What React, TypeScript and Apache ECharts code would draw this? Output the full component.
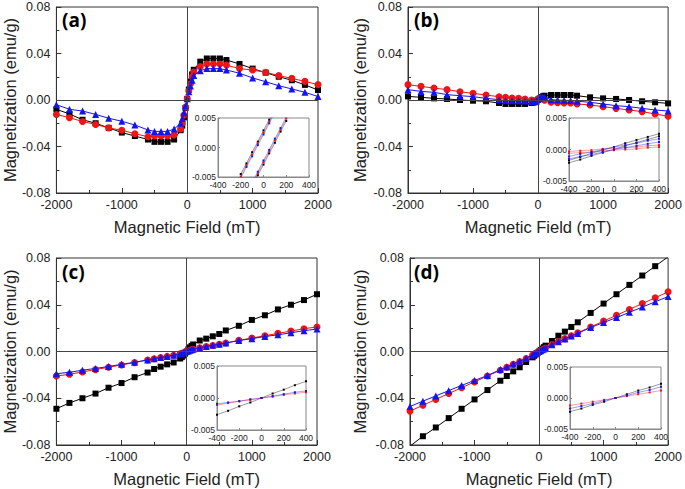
import React, { useEffect, useRef } from "react";
import * as echarts from "echarts";

// ---------- data ----------
const fieldMain = [-2000, -1800, -1600, -1400, -1200, -1000, -800, -600, -500, -400, -300, -200, -100, -75, -50, -25, 0, 25, 50, 75, 100, 200, 300, 400, 500, 600, 800, 1000, 1200, 1400, 1600, 1800, 2000];

const aBlack = [-0.008, -0.012, -0.017, -0.020, -0.024, -0.028, -0.031, -0.034, -0.036, -0.036, -0.036, -0.034, -0.026, -0.022, -0.015, -0.007, 0.001, 0.009, 0.016, 0.022, 0.026, 0.033, 0.0357, 0.0357, 0.0357, 0.0344, 0.031, 0.027, 0.0235, 0.020, 0.017, 0.013, 0.0086];
const aRed = [-0.0124, -0.0152, -0.0185, -0.021, -0.024, -0.026, -0.029, -0.0316, -0.031, -0.031, -0.031, -0.030, -0.025, -0.020, -0.013, -0.006, 0.001, 0.008, 0.014, 0.020, 0.024, 0.0287, 0.031, 0.031, 0.031, 0.030, 0.027, 0.0258, 0.0238, 0.021, 0.0186, 0.016, 0.0132];
const aBlue = [-0.004, -0.008, -0.0095, -0.0124, -0.0157, -0.0183, -0.0215, -0.0258, -0.027, -0.027, -0.027, -0.025, -0.020, -0.016, -0.011, -0.005, 0.001, 0.007, 0.012, 0.017, 0.021, 0.0252, 0.027, 0.027, 0.027, 0.0258, 0.023, 0.019, 0.0157, 0.0123, 0.0095, 0.0066, 0.003];

const bBlack = [0.0031, 0.0023, 0.0014, 0.0009, 0.0, -0.0006, -0.0011, -0.0026, -0.0034, -0.0034, -0.0034, -0.0034, -0.0026, -0.0022, -0.0015, -0.0006, 0.0004, 0.0014, 0.0024, 0.0032, 0.0037, 0.0043, 0.0043, 0.0043, 0.0043, 0.0037, 0.0023, 0.0014, 0.0009, 0.0, -0.0011, -0.002, -0.0029];
const bRed = [0.0132, 0.0117, 0.0103, 0.0089, 0.0071, 0.0057, 0.0043, 0.0028, 0.0023, 0.0017, 0.0014, 0.0009, 0.0, -0.0006, -0.001, -0.0006, 0.0004, 0.0012, 0.0016, 0.001, -0.0002, -0.002, -0.0023, -0.0025, -0.0026, -0.0034, -0.0043, -0.0057, -0.0072, -0.0086, -0.010, -0.012, -0.014];
const bBlue = [0.0089, 0.0074, 0.0066, 0.0046, 0.0037, 0.0029, 0.0014, 0.0003, -0.0006, -0.0006, -0.0006, -0.0008, -0.0012, -0.0016, -0.0016, -0.0008, 0.0004, 0.0015, 0.0024, 0.0028, 0.0026, 0.0003, -0.0001, -0.0003, -0.0004, -0.001, -0.002, -0.0034, -0.0049, -0.0057, -0.0072, -0.0086, -0.0095];

const cBlack = [-0.049, -0.044, -0.040, -0.036, -0.031, -0.027, -0.022, -0.018, -0.015, -0.013, -0.011, -0.0094, -0.006, -0.0048, -0.0035, -0.0018, 0.0, 0.0018, 0.0035, 0.0048, 0.006, 0.0094, 0.011, 0.013, 0.015, 0.018, 0.022, 0.027, 0.031, 0.036, 0.040, 0.044, 0.049];
const cRed = [-0.021, -0.0195, -0.0175, -0.0155, -0.0135, -0.0115, -0.0095, -0.0072, -0.0062, -0.0052, -0.0042, -0.0032, -0.002, -0.0015, -0.001, -0.0005, 0.0, 0.0005, 0.001, 0.0015, 0.002, 0.0032, 0.0042, 0.0052, 0.0062, 0.0072, 0.0095, 0.0115, 0.0135, 0.0155, 0.0175, 0.0195, 0.021];
const cBlue = [-0.019, -0.0178, -0.016, -0.0145, -0.0128, -0.011, -0.0092, -0.0072, -0.0062, -0.0052, -0.0042, -0.0032, -0.002, -0.0015, -0.001, -0.0005, 0.0, 0.0005, 0.001, 0.0015, 0.002, 0.0033, 0.0043, 0.0053, 0.0063, 0.0073, 0.0094, 0.011, 0.0128, 0.0143, 0.016, 0.0178, 0.0192];

const dBlack = [-0.081, -0.0725, -0.065, -0.057, -0.049, -0.041, -0.033, -0.025, -0.021, -0.017, -0.0135, -0.009, -0.005, -0.0037, -0.0025, -0.0012, 0.0, 0.0012, 0.0025, 0.0037, 0.005, 0.009, 0.0135, 0.017, 0.021, 0.025, 0.033, 0.041, 0.049, 0.057, 0.065, 0.073, 0.081];
const dRed = [-0.051, -0.046, -0.041, -0.036, -0.031, -0.026, -0.021, -0.016, -0.0135, -0.011, -0.0085, -0.006, -0.003, -0.0022, -0.0015, -0.0007, 0.0, 0.0007, 0.0015, 0.0022, 0.003, 0.006, 0.0085, 0.011, 0.0135, 0.016, 0.021, 0.026, 0.031, 0.036, 0.041, 0.046, 0.051];
const dBlue = [-0.047, -0.0425, -0.038, -0.0335, -0.029, -0.0248, -0.0205, -0.0155, -0.0132, -0.0108, -0.0083, -0.0058, -0.003, -0.0022, -0.0015, -0.0007, 0.0, 0.0007, 0.0015, 0.0022, 0.003, 0.0058, 0.0083, 0.0108, 0.0132, 0.0155, 0.0205, 0.0248, 0.029, 0.0335, 0.038, 0.0425, 0.047];

// inset data
const insetFieldA = [-200, -150, -100, -50, 0, 50, 100, 150, 200];
const aInBlackUp = [-0.0045, -0.0027, -0.0008, 0.0010, 0.0029, 0.0047, 0.0066, 0.0084, 0.0103];
const aInBlackDown = [-0.0103, -0.0084, -0.0066, -0.0047, -0.0029, -0.0010, 0.0008, 0.0027, 0.0045];
const aInRedUp = [-0.0049, -0.0030, -0.0012, 0.0007, 0.0025, 0.0044, 0.0062, 0.0081, 0.0099];
const aInRedDown = [-0.0099, -0.0081, -0.0062, -0.0044, -0.0025, -0.0007, 0.0012, 0.0030, 0.0049];
const aInBlueUp = [-0.0052, -0.0033, -0.0015, 0.0004, 0.0022, 0.0041, 0.0059, 0.0078, 0.0096];
const aInBlueDown = [-0.0096, -0.0078, -0.0059, -0.0041, -0.0022, -0.0004, 0.0015, 0.0033, 0.0052];

const insetField = [-400, -300, -200, -100, 0, 100, 200, 300, 400];
const bInBlackUp = [-0.0017, -0.0012, -0.0006, -0.0001, 0.0004, 0.0010, 0.0015, 0.0020, 0.0025];
const bInBlackDown = [-0.0021, -0.0016, -0.0010, -0.0005, 0.0000, 0.0006, 0.0011, 0.0016, 0.0021];
const bInBlueUp = [-0.0011, -0.0007, -0.0004, 0.0000, 0.0004, 0.0007, 0.0010, 0.0014, 0.0017];
const bInBlueDown = [-0.0015, -0.0011, -0.0008, -0.0004, 0.0000, 0.0003, 0.0006, 0.0009, 0.0012];
const bInRedUp = [-0.0003, -0.0002, -0.0001, 0.0001, 0.0002, 0.0003, 0.0004, 0.0006, 0.0007];
const bInRedDown = [-0.0006, -0.0005, -0.0004, -0.0002, -0.0001, 0.0000, 0.0001, 0.0003, 0.0004];

const cInBlack = [-0.0026, -0.0020, -0.0013, -0.0007, 0.0000, 0.0007, 0.0013, 0.0020, 0.0026];
const cInRed = [-0.0011, -0.0008, -0.0005, -0.0003, 0.0000, 0.0002, 0.0005, 0.0007, 0.0009];
const cInBlue = [-0.0009, -0.0007, -0.0005, -0.0002, 0.0000, 0.0003, 0.0006, 0.0009, 0.0011];

const dInBlack = [-0.0022, -0.0017, -0.0011, -0.0006, 0.0000, 0.0006, 0.0012, 0.0017, 0.0023];
const dInBlue = [-0.0017, -0.0013, -0.0009, -0.0004, 0.0000, 0.0004, 0.0009, 0.0013, 0.0018];
const dInRed = [-0.0012, -0.0009, -0.0006, -0.0003, 0.0000, 0.0003, 0.0006, 0.0009, 0.0012];

const panelLabels = ["(a)", "(b)", "(c)", "(d)"];
const xTitle = "Magnetic Field (mT)";
const yTitle = "Magnetization (emu/g)";

// ---------- styles / layout ----------
const BLACK = "#000000";
const RED = "#f01414";
const BLUE = "#1414f0";
const FONT = "'Liberation Sans', Arial, sans-serif";

const layout = [
  { main: { left: 56, top: 7, width: 262, height: 186 }, inset: { left: 218, top: 118, width: 91, height: 59 }, label: [62, 10], yGap: 36 },
  { main: { left: 408, top: 7, width: 262, height: 186 }, inset: { left: 569, top: 118, width: 90, height: 63 }, label: [414, 10], yGap: 40 },
  { main: { left: 56, top: 258, width: 261, height: 187 }, inset: { left: 217, top: 366, width: 89, height: 64 }, label: [62, 262], yGap: 36 },
  { main: { left: 410, top: 258, width: 260, height: 187 }, inset: { left: 570, top: 367, width: 91, height: 62 }, label: [414, 262], yGap: 42 },
];

const mainSets = [
  [aBlack, aRed, aBlue],
  [bBlack, bRed, bBlue],
  [cBlack, cRed, cBlue],
  [dBlack, dRed, dBlue],
];

const insetSets: { x: number[]; y: number[]; c: string }[][] = [
  [
    { x: insetFieldA, y: aInBlackUp, c: BLACK },
    { x: insetFieldA, y: aInBlackDown, c: BLACK },
    { x: insetFieldA, y: aInRedUp, c: RED },
    { x: insetFieldA, y: aInRedDown, c: RED },
    { x: insetFieldA, y: aInBlueUp, c: BLUE },
    { x: insetFieldA, y: aInBlueDown, c: BLUE },
  ],
  [
    { x: insetField, y: bInBlackUp, c: BLACK },
    { x: insetField, y: bInBlackDown, c: BLACK },
    { x: insetField, y: bInRedUp, c: RED },
    { x: insetField, y: bInRedDown, c: RED },
    { x: insetField, y: bInBlueUp, c: BLUE },
    { x: insetField, y: bInBlueDown, c: BLUE },
  ],
  [
    { x: insetField, y: cInBlack, c: BLACK },
    { x: insetField, y: cInRed, c: RED },
    { x: insetField, y: cInBlue, c: BLUE },
  ],
  [
    { x: insetField, y: dInBlack, c: BLACK },
    { x: insetField, y: dInRed, c: RED },
    { x: insetField, y: dInBlue, c: BLUE },
  ],
];

const markers = [
  { symbol: "rect", size: 6, color: BLACK },
  { symbol: "circle", size: 7, color: RED },
  { symbol: "triangle", size: 7, color: BLUE },
];

function buildOption() {
  const grid: any[] = [];
  const xAxis: any[] = [];
  const yAxis: any[] = [];
  const series: any[] = [];
  const graphic: any[] = [];

  layout.forEach((L, p) => {
    // main grid
    const mi = grid.length;
    grid.push({ ...L.main, show: true, borderColor: "#333", borderWidth: 1, backgroundColor: "transparent", z: 0 });
    xAxis.push({
      gridIndex: mi, type: "value", min: -2000, max: 2000, interval: 1000,
      axisLine: { show: true, onZero: false, lineStyle: { color: "#333", width: 1 } },
      axisTick: { show: true, inside: true, length: 5, lineStyle: { color: "#333" } },
      minorTick: { show: true, splitNumber: 2, length: 3, lineStyle: { color: "#333" } },
      splitLine: { show: false },
      axisLabel: { fontSize: 12.5, color: "#222", margin: 5, fontFamily: FONT, formatter: (v: number) => String(v) },
      name: xTitle, nameLocation: "middle", nameGap: 25,
      nameTextStyle: { fontSize: 16.5, color: "#222", fontFamily: FONT },
    });
    yAxis.push({
      gridIndex: mi, type: "value", min: -0.08, max: 0.08, interval: 0.04,
      axisLine: { show: true, onZero: false, lineStyle: { color: "#333", width: 1 } },
      axisTick: { show: true, inside: true, length: 5, lineStyle: { color: "#333" } },
      minorTick: { show: true, splitNumber: 2, length: 3, lineStyle: { color: "#333" } },
      splitLine: { show: false },
      axisLabel: { fontSize: 12.5, color: "#222", margin: 6, fontFamily: FONT, formatter: (v: number) => v.toFixed(2) },
      name: yTitle, nameLocation: "middle", nameGap: L.yGap, nameRotate: 90,
      nameTextStyle: { fontSize: 16.5, color: "#222", fontFamily: FONT },
    });
    mainSets[p].forEach((arr, k) => {
      const m = markers[k];
      const s: any = {
        type: "line", xAxisIndex: mi, yAxisIndex: mi,
        data: fieldMain.map((x, j) => [x, arr[j]]),
        symbol: m.symbol, symbolSize: m.size, showSymbol: true,
        lineStyle: { color: m.color, width: 1 },
        itemStyle: { color: m.color },
        clip: true, z: 2 + k,
      };
      if (k === 0) {
        s.markLine = {
          silent: true, symbol: ["none", "none"], label: { show: false },
          lineStyle: { color: "#444", width: 1, type: "solid" },
          data: [{ xAxis: 0 }, { yAxis: 0 }],
        };
      }
      series.push(s);
    });

    // inset grid
    const ii = grid.length;
    grid.push({ ...L.inset, show: true, borderColor: "#888", borderWidth: 1, backgroundColor: "#ffffff", z: 6 });
    xAxis.push({
      gridIndex: ii, type: "value", min: -400, max: 400, interval: 200, z: 7,
      axisLine: { show: true, onZero: false, lineStyle: { color: "#888", width: 1 } },
      axisTick: { show: true, inside: true, length: 2, lineStyle: { color: "#888" } },
      splitLine: { show: false },
      axisLabel: { fontSize: 8.5, color: "#222", margin: 3, fontFamily: FONT, formatter: (v: number) => String(v) },
    });
    yAxis.push({
      gridIndex: ii, type: "value", min: -0.005, max: 0.005, interval: 0.005, z: 7,
      axisLine: { show: true, onZero: false, lineStyle: { color: "#888", width: 1 } },
      axisTick: { show: true, inside: true, length: 2, lineStyle: { color: "#888" } },
      splitLine: { show: false },
      axisLabel: { fontSize: 8.5, color: "#222", margin: 2, fontFamily: FONT, formatter: (v: number) => v.toFixed(3) },
    });
    insetSets[p].forEach((d, k) => {
      const s: any = {
        type: "line", xAxisIndex: ii, yAxisIndex: ii,
        data: d.x.map((x, j) => [x, d.y[j]]),
        symbol: "rect", symbolSize: 2, showSymbol: true,
        lineStyle: { color: d.c, width: 0.8, opacity: 0.5 },
        itemStyle: { color: d.c },
        clip: true, z: 8,
      };
      if (k === 0) {
        s.markLine = {
          silent: true, symbol: ["none", "none"], label: { show: false },
          lineStyle: { color: "#999", width: 1, type: "solid" },
          data: [{ xAxis: 0 }, { yAxis: 0 }],
        };
      }
      series.push(s);
    });

    graphic.push({
      type: "text", x: L.label[0], y: L.label[1], z: 20,
      style: { text: panelLabels[p], font: "bold 19px 'Open Sans', 'Liberation Sans', sans-serif", fill: "#000", align: "left", verticalAlign: "top" },
    });
  });

  return { animation: false, backgroundColor: "#ffffff", grid, xAxis, yAxis, series, graphic };
}

export default function App() {
  const ref = useRef<HTMLDivElement>(null);
  useEffect(() => {
    if (!ref.current) return;
    const chart = echarts.init(ref.current, undefined, { renderer: "svg" });
    chart.setOption(buildOption() as any);
    return () => chart.dispose();
  }, []);
  return <div ref={ref} style={{ position: "fixed", left: 0, top: 0, width: 685, height: 489, background: "#fff" }} />;
}
